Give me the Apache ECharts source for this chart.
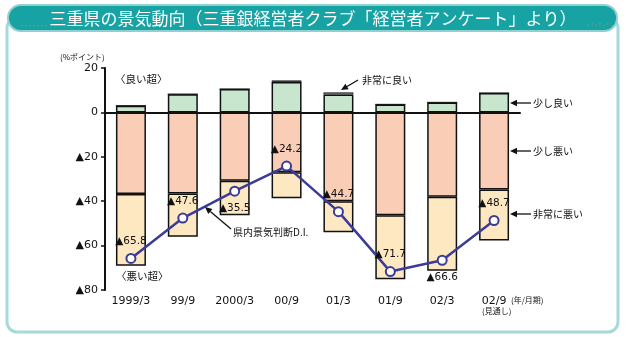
<!DOCTYPE html>
<html><head><meta charset="utf-8">
<script src="https://cdn.jsdelivr.net/npm/echarts@6/dist/echarts.min.js"></script>
<style>html,body{margin:0;padding:0;background:#fff}#c{width:626px;height:337px}</style>
</head><body><div id="c"></div>
<script>
var categories = ['1999/3','99/9','2000/3','00/9','01/3','01/9','02/3','02/9'];
var veryGood   = [0, 0, 0, 0.7, 0.9, 0, 0, 0];
var slightGood = [3.0, 8.2, 10.5, 13.7, 8.1, 3.6, 4.5, 8.7];
var slightBad  = [-36.8, -36.5, -30.8, -27.0, -40.0, -46.3, -38.0, -34.7];
var veryBad    = [-32.3, -19.5, -15.5, -11.7, -14.0, -28.9, -33.3, -23.0];
var diValues   = [-65.8, -47.6, -35.5, -24.2, -44.7, -71.7, -66.6, -48.7];
var yTicks     = [20, 0, -20, -40, -60, -80];
var labelBelow = [false, false, true, false, false, false, true, false];

var FONT = '"Noto Sans CJK JP", "DejaVu Sans", sans-serif';
var chart = echarts.init(document.getElementById('c'));

function fmt(v){ return v < 0 ? '▲' + Math.abs(v) : String(v); }
var segStyle = function(c){ return {color:c, borderColor:'#111', borderWidth:1.5}; };

function arrow(x1,y1,x2,y2){
  var ang = Math.atan2(y2-y1, x2-x1), L=7, W=3.2;
  var bx = x2 - L*Math.cos(ang), by = y2 - L*Math.sin(ang);
  var px = -Math.sin(ang)*W, py = Math.cos(ang)*W;
  return [
    {type:'line', shape:{x1:x1,y1:y1,x2:bx,y2:by}, style:{stroke:'#111', lineWidth:1.3}, z:20},
    {type:'polygon', shape:{points:[[x2,y2],[bx+px,by+py],[bx-px,by-py]]}, style:{fill:'#111'}, z:20}
  ];
}
function txt(x,y,t,size,align){
  return {type:'text', x:x, y:y, z:20, style:{text:t, font:(size||10)+'px '+FONT, fill:'#111', textAlign:align||'left', textVerticalAlign:'middle'}};
}
function dots(x0,x1,y){
  var arr=[];
  for(var x=x0;x<=x1;x+=4){ arr.push({type:'circle', shape:{cx:x, cy:y+((x/4)%2?1.5:0), r:0.7}, style:{fill:'#d9823a'}, z:12}); }
  return arr;
}

var graphics = [
  {type:'rect', shape:{x:7, y:18, width:611, height:314, r:10}, style:{fill:'none', stroke:'#a6dada', lineWidth:3}, z:1},
  {type:'rect', shape:{x:8, y:5, width:609, height:26, r:13}, style:{fill:'#17a2a3', stroke:'#8fd0d0', lineWidth:2}, z:10},
  {type:'text', x:313, y:18.5, z:11, style:{text:'三重県の景気動向（三重銀経営者クラブ「経営者アンケート」より）', font:'17px '+FONT, fill:'#fff', textAlign:'center', textVerticalAlign:'middle'}},
  txt(60,57,'(%ポイント)',8),
  txt(115,79,'〈良い超〉',10.5),
  txt(116,276,'〈悪い超〉',10.5),
  txt(362,80,'非常に良い',10),
  txt(533,103,'少し良い',10),
  txt(533,151,'少し悪い',10),
  txt(533,214,'非常に悪い',10),
  txt(233,232,'県内景気判断D.I.',10),
  txt(511,300,'(年/月期)',8),
  txt(482,311,'(見通し)',8)
].concat(arrow(358,80,341,90), arrow(531,103,510,103), arrow(531,151,510,151), arrow(531,214,510,214), arrow(231,229,205,207), dots(22,48,24), dots(588,612,24));

var diData = diValues.map(function(v,i){
  return {value:v, label:{position: labelBelow[i] ? 'bottom' : 'top'}};
});

chart.setOption({
  animation:false,
  textStyle:{fontFamily:FONT},
  grid:{left:105, right:106, top:68, bottom:47},
  xAxis:{type:'category', data:categories, z:6,
    axisLine:{lineStyle:{color:'#111', width:2}},
    axisTick:{lineStyle:{color:'#111', width:1.5}, length:4},
    axisLabel:{color:'#111', fontSize:11, margin:6, fontFamily:'"DejaVu Sans", sans-serif'}},
  yAxis:{type:'value', min:-80, max:20, interval:20, z:6,
    axisLine:{show:true, lineStyle:{color:'#111', width:2}},
    axisTick:{show:true, length:4, lineStyle:{color:'#111', width:1.5}},
    splitLine:{show:false},
    axisLabel:{color:'#111', fontSize:11, margin:7, fontFamily:'"DejaVu Sans", sans-serif', formatter:fmt}},
  graphic:graphics,
  series:[
    {name:'少し悪い', type:'bar', stack:'a', barWidth:30, data:slightBad, itemStyle:segStyle('#f9cdb6'), z:2,
     markLine:{silent:true, symbol:'none', label:{show:false}, lineStyle:{color:'#8a8a8a', width:1.2, type:'solid'}, data:[{yAxis:0}]}},
    {name:'非常に悪い', type:'bar', stack:'a', barWidth:30, data:veryBad, itemStyle:segStyle('#fde8c2'), z:2},
    {name:'少し良い', type:'bar', stack:'a', barWidth:30, data:slightGood, itemStyle:segStyle('#c7e6cd'), z:2},
    {name:'非常に良い', type:'bar', stack:'a', barWidth:30, data:veryGood, itemStyle:{color:'#9fb6dc', borderColor:'#111', borderWidth:0.8}, z:2},
    {name:'県内景気判断D.I.', type:'line', data:diData, z:5,
     lineStyle:{color:'#3b3b98', width:2.5}, symbol:'circle', symbolSize:9,
     itemStyle:{color:'#fff', borderColor:'#3b3b98', borderWidth:2},
     label:{show:true, distance:6, color:'#111', fontSize:10.5, fontFamily:'"DejaVu Sans", sans-serif', formatter:function(p){return fmt(p.value);}}}
  ]
});
</script></body></html>
